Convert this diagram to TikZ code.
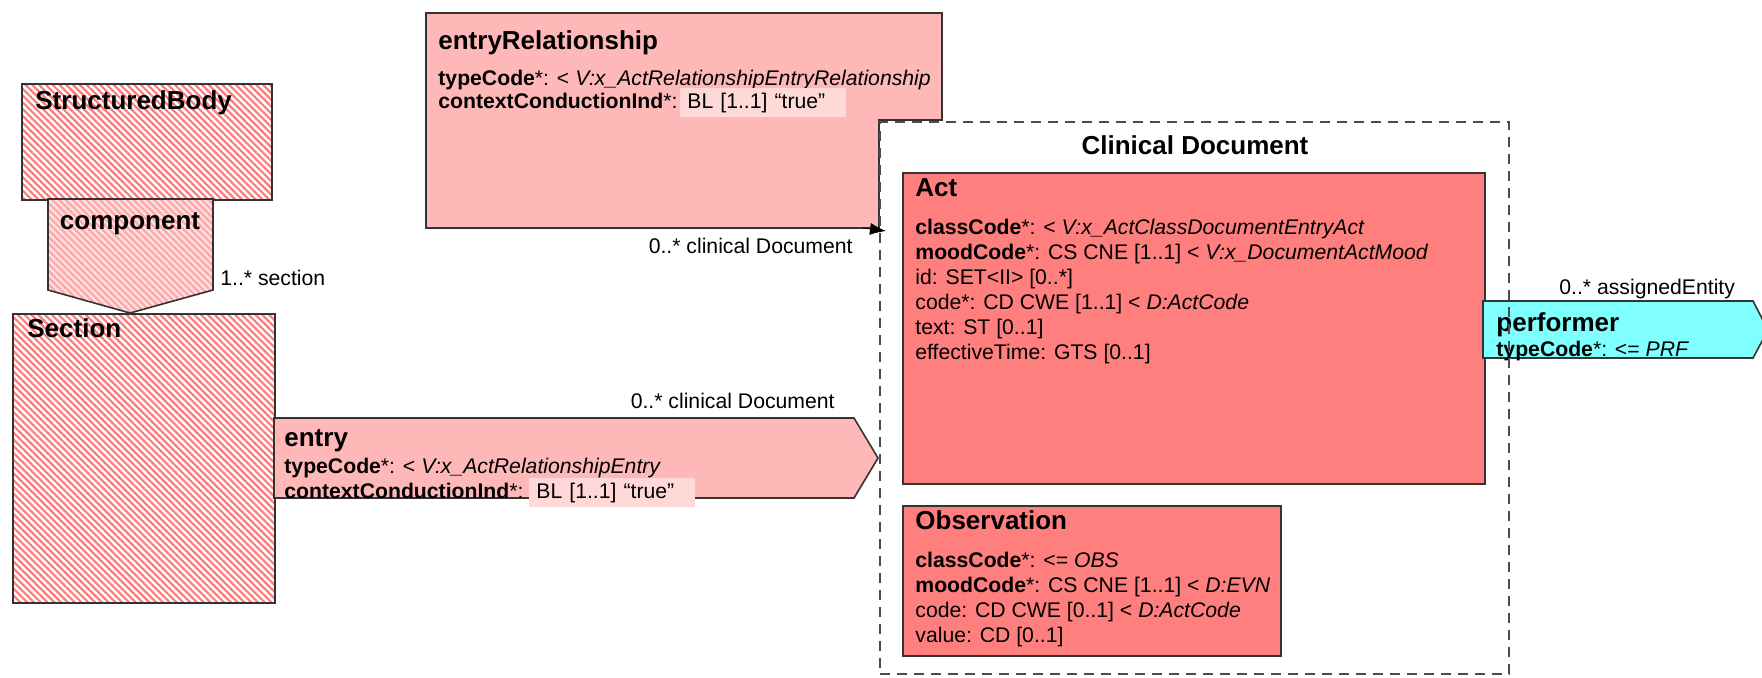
\documentclass[tikz,border=0pt]{standalone}
\usepackage{fontspec}
\setmainfont{Liberation Sans}
\usetikzlibrary{arrows.meta,positioning,calc,patterns.meta}

\definecolor{kapcsszin}{HTML}{FFB8B8}
\definecolor{blszin}{HTML}{FFD8D8}
\definecolor{aktszin}{HTML}{FF7F7F}
\definecolor{resztvevo}{HTML}{80FFFF}
\definecolor{csikszin}{HTML}{FF7A7A}
\definecolor{keret}{HTML}{333333}

\tikzset{
  doboz/.style={draw=keret,line width=0.8pt,inner sep=0pt,anchor=north west},
  csikos/.style={doboz,pattern={Lines[angle=-45,distance=2.4pt,line width=1.1pt]},pattern color=csikszin},
  halvany/.style={draw=keret,line width=0.8pt,preaction={fill=red!12},
                  preaction={pattern={Lines[angle=-45,distance=2.4pt,line width=1.1pt]},pattern color=red!35}},
  osztaly/.style={doboz,fill=aktszin},
  kapcs/.style={draw=keret,line width=0.8pt,fill=kapcsszin},
  szerep/.style={draw=keret,line width=0.8pt,fill=resztvevo},
  keretvonal/.style={draw=black!70,line width=1pt,dash pattern=on 5pt off 3.5pt},
  cim/.style={font=\bfseries\fontsize{13}{15}\selectfont,inner sep=0pt},
  attr/.style={font=\fontsize{10.6}{12.5}\selectfont,inner sep=0pt,align=left},
  szamossag/.style={font=\fontsize{10.6}{12.5}\selectfont,inner sep=0pt},
  blmezo/.style={attr,fill=blszin,inner xsep=3.5pt,text width=76pt,minimum height=14.5pt},
  nyilhegy/.style={-{Latex[length=8pt,width=6pt]}},
}

\begin{document}
\begin{tikzpicture}[x=0.5pt,y=-0.5pt]
  \useasboundingbox (0,0) rectangle (1762,677);

  % StructuredBody -- component -- Section
  \node[csikos,minimum width=125pt,minimum height=58pt] (sb) at (21,83) {};
  \node[csikos,minimum width=131pt,minimum height=144.5pt] (sec) at (12,313) {};
  \draw[halvany] (48,199) -- (213,199) -- (213,290) -- (130,313) -- (48,290) -- cycle;
  \node[cim,anchor=base west] (sbcim) at (35,109) {StructuredBody};
  \node[cim,anchor=base] (compcim) at (130,229) {component};
  \node[cim,anchor=base west] (seccim) at (27,337) {Section};
  \node[szamossag,anchor=base west] (compszam) at (220,285) {1..* section};

  % entryRelationship
  \draw[kapcs] (426,13) -- (942,13) -- (942,120) -- (879,120) -- (879,228) -- (426,228) -- cycle;
  \node[cim,anchor=base west] (ercim) at (438,49) {entryRelationship};
  \node[attr,anchor=base west] (ertype) at (438,85) {\textbf{typeCode}*: < \textit{V:x\_ActRelationshipEntryRelationship}};
  \node[attr,anchor=base west] (erctx) at (438,108) {\textbf{contextConductionInd}*:};
  \node[blmezo,anchor=base west] (erbl) at (680,108) {BL [1..1] “true”};
  \node[szamossag,anchor=base east] (erszam) at (853,253) {0..* clinical Document};
  \coordinate (ersarok) at (879,228);
  \draw[nyilhegy] ($(ersarok)+(-16,0)$) -- ($(ersarok)+(7,3)$);

  % entry
  \draw[kapcs] (274,418) -- (854,418) -- (878,458) -- (854,498) -- (274,498) -- cycle;
  \node[cim,anchor=base west] (entrycim) at (284,446) {entry};
  \node[attr,anchor=base west] (entrytype) at (284,473) {\textbf{typeCode}*: < \textit{V:x\_ActRelationshipEntry}};
  \node[attr,anchor=base west] (entryctx) at (284,498) {\textbf{contextConductionInd}*:};
  \node[blmezo,anchor=base west] (entrybl) at (529,498) {BL [1..1] “true”};
  \node[szamossag,anchor=base east] (entryszam) at (835,408) {0..* clinical Document};

  % Act
  \node[osztaly,minimum width=291pt,minimum height=155.5pt] (act) at (902,172) {};
  \node[cim,anchor=base west] (actcim) at (915,196) {Act};
  \node[attr,anchor=north west] (actattr) at (915,219) {\textbf{classCode}*: < \textit{V:x\_ActClassDocumentEntryAct}\\
    \textbf{moodCode}*: CS CNE [1..1] < \textit{V:x\_DocumentActMood}\\
    id: SET<II> [0..*]\\
    code*: CD CWE [1..1] < \textit{D:ActCode}\\
    text: ST [0..1]\\
    effectiveTime: GTS [0..1]};

  % Observation
  \node[osztaly,minimum width=189pt,minimum height=75pt] (obs) at (902,505) {};
  \node[cim,anchor=base west] (obscim) at (915,529) {Observation};
  \node[attr,anchor=north west] (obsattr) at (915,552) {\textbf{classCode}*: <= \textit{OBS}\\
    \textbf{moodCode}*: CS CNE [1..1] < \textit{D:EVN}\\
    code: CD CWE [0..1] < \textit{D:ActCode}\\
    value: CD [0..1]};

  % performer
  \draw[szerep] (1483,301) -- (1753,301) -- (1768,330) -- (1753,358) -- (1483,358) -- cycle;
  \node[cim,anchor=base west] (perfcim) at (1496,331) {performer};
  \node[attr,anchor=base west] (perftype) at (1496,356) {\textbf{typeCode}*: <= \textit{PRF}};
  \node[szamossag,anchor=base west] (perfszam) at (1559,294) {0..* assignedEntity};

  % Clinical Document keret
  \node[doboz,keretvonal,minimum width=314.5pt,minimum height=276pt] (cdoc) at (879,121) {};
  \node[cim,anchor=base] (cdoccim) at (1195,154) {Clinical Document};
\end{tikzpicture}
\end{document}
